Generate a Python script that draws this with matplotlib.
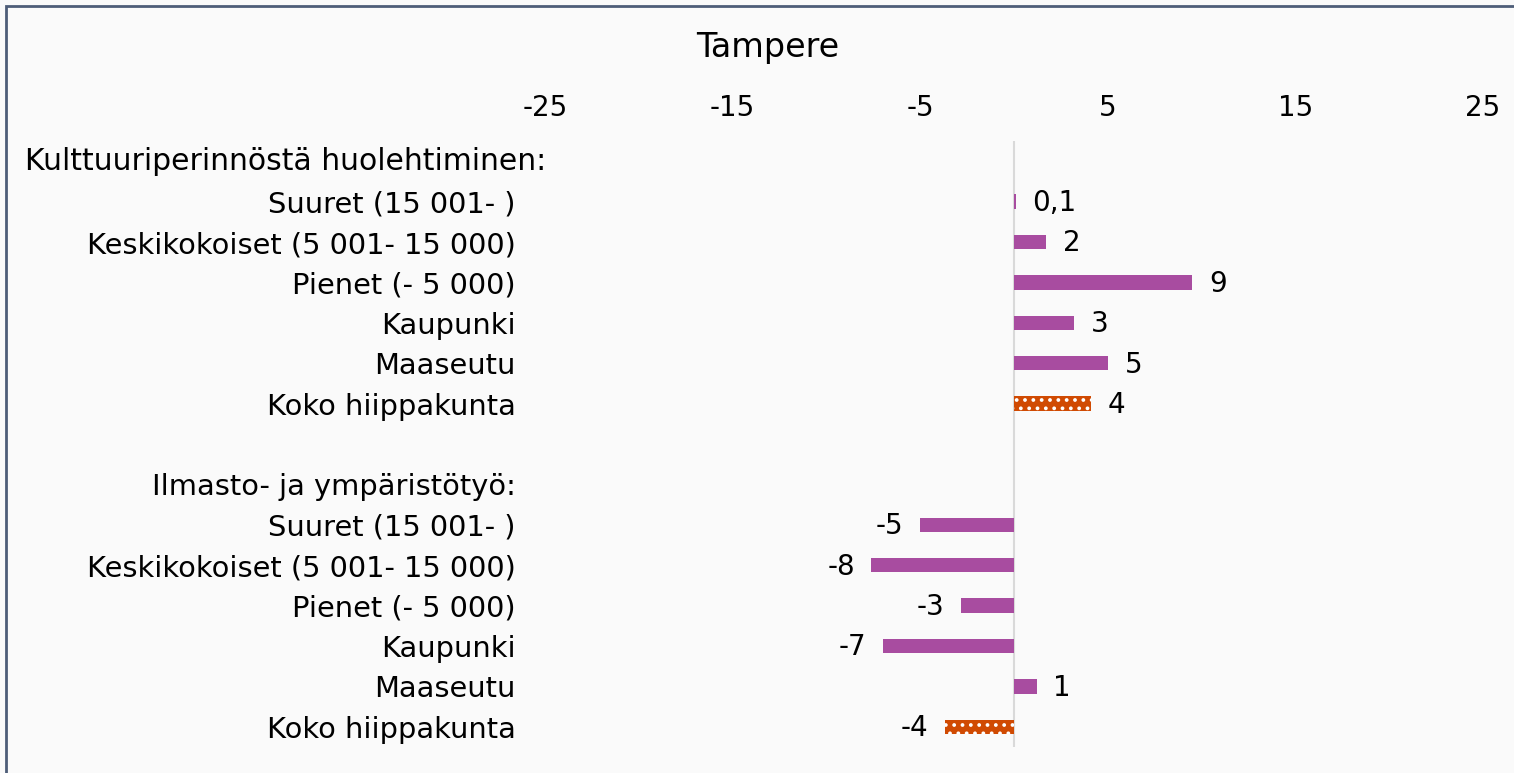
import matplotlib.pyplot as plt
import matplotlib.patches as mpatches
import matplotlib.transforms as mtransforms

# categories from top to bottom (headers and blank row have no bar)
categories = [
    "Kulttuuriperinnöstä huolehtiminen:",
    "Suuret (15 001- )",
    "Keskikokoiset (5 001- 15 000)",
    "Pienet (- 5 000)",
    "Kaupunki",
    "Maaseutu",
    "Koko hiippakunta",
    "",
    "Ilmasto- ja ympäristötyö:",
    "Suuret (15 001- )",
    "Keskikokoiset (5 001- 15 000)",
    "Pienet (- 5 000)",
    "Kaupunki",
    "Maaseutu",
    "Koko hiippakunta",
]
values = [None, 0.1, 1.7, 9.5, 3.2, 5.0, 4.1, None,
          None, -5.0, -7.6, -2.8, -7.0, 1.2, -3.7]
value_labels = [None, "0,1", "2", "9", "3", "5", "4", None,
                None, "-5", "-8", "-3", "-7", "1", "-4"]
is_total = [False, False, False, False, False, False, True, False,
            False, False, False, False, False, False, True]
xticks = [-25, -15, -5, 5, 15, 25]

purple = "#A84CA0"
orange = "#D04A02"
bg = "#FAFAFA"
fs = 20

plt.rcParams["font.family"] = ["Verdana", "DejaVu Sans"]
plt.rcParams["hatch.linewidth"] = 1.5

fig = plt.figure(figsize=(15.14, 7.73), dpi=100, facecolor=bg)
ax = fig.add_axes([0.36, 0.0336, 0.6195, 0.784], facecolor=bg)

n = len(categories)
ypos = list(range(n))
for y, v, lab, tot in zip(ypos, values, value_labels, is_total):
    if v is None:
        continue
    if tot:
        ax.barh(y, v, height=0.36, color=orange, edgecolor="white",
                linewidth=0, hatch="..", zorder=3)
    else:
        ax.barh(y, v, height=0.36, color=purple, linewidth=0, zorder=3)
    if v >= 0:
        ax.annotate(lab, (v, y), xytext=(12, -1), textcoords="offset points",
                    ha="left", va="center", fontsize=fs, color="black")
    else:
        ax.annotate(lab, (v, y), xytext=(-12, -1), textcoords="offset points",
                    ha="right", va="center", fontsize=fs, color="black")

ax.axvline(0, color="#D9D9D9", linewidth=1.5, zorder=2)
ax.set_xlim(-25, 25)
ax.set_ylim(n - 0.5, -0.5)
ax.set_yticks(ypos)
# first header is drawn separately (it runs past the label column)
ax.set_yticklabels([""] + categories[1:], fontsize=20.8)
trans = mtransforms.blended_transform_factory(fig.transFigure, ax.transData)
ax.text(25 / 1514, 0, categories[0], transform=trans, ha="left", va="center",
        fontsize=21.5)
ax.set_xticks(xticks)
ax.set_xticklabels([str(t) for t in xticks], fontsize=fs)
ax.xaxis.tick_top()
ax.tick_params(axis="x", length=0, pad=14)
ax.tick_params(axis="y", length=0, pad=21)
for s in ax.spines.values():
    s.set_visible(False)

fig.text(0.507, 0.938, "Tampere", ha="center", va="center", fontsize=24)

# outer frame of the chart area
fig.patches.append(mpatches.Rectangle((0.004, -0.01), 1.1, 1.0023, transform=fig.transFigure,
                                      fill=False, edgecolor="#4E5D78", linewidth=2))

fig.savefig("out.png", dpi=100, facecolor=bg)
